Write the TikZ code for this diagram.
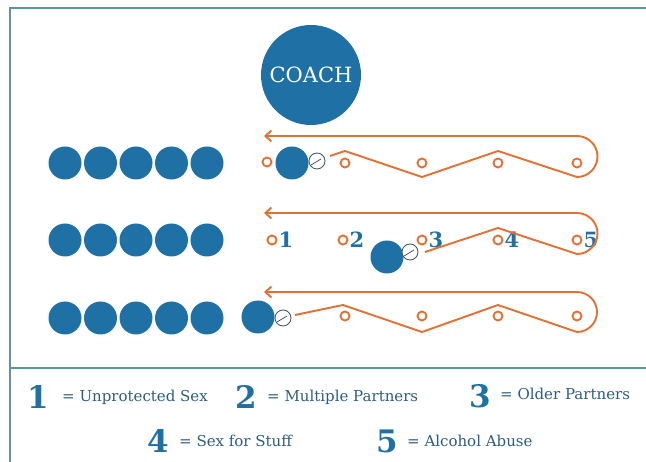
\documentclass[tikz,border=0pt]{standalone}
\usepackage{fontspec}
\setmainfont{DejaVu Serif}
\usetikzlibrary{arrows.meta,positioning}

\definecolor{teamblue}{RGB}{30,112,165}
\definecolor{keyblue}{RGB}{45,92,128}
\definecolor{runorange}{RGB}{226,112,52}
\definecolor{framegrey}{RGB}{95,150,158}
\definecolor{ballgrey}{RGB}{60,78,95}

\tikzset{
	player/.style={circle,fill=teamblue,minimum size=33pt,inner sep=0pt},
	cone/.style={circle,draw=runorange,line width=1.9pt,minimum size=9pt,inner sep=0pt},
	ball/.style={circle,draw=ballgrey,fill=white,line width=0.8pt,minimum size=16pt,inner sep=0pt},
	kick/.style={draw=ballgrey,line width=0.7pt},
	run/.style={draw=runorange,line width=1.9pt,line join=round,-{Straight Barb[length=6pt,width=11pt]}},
	conenum/.style={font=\bfseries\fontsize{21}{21}\selectfont,text=teamblue,inner sep=1pt},
	keynum/.style={font=\bfseries\fontsize{31}{31}\selectfont,text=teamblue,inner sep=0pt},
	keytext/.style={font=\fontsize{15}{15}\selectfont,text=keyblue,inner sep=0pt},
	frame/.style={draw=framegrey,line width=1.5pt}
}

\begin{document}
\begin{tikzpicture}[x=1pt,y=-1pt]
	\useasboundingbox (0,0) rectangle (646,462);
	\draw[frame] (646,8) -- (10,8) -- (10,462);
	\draw[frame] (10,368) -- (646,368);

	\node[player,minimum size=100pt,text=white,font=\fontsize{21}{21}\selectfont] (coach) at (311,75) {COACH};

	\foreach \y [count=\r] in {163,240,318}
		\foreach \x [count=\i] in {65,100.5,136,171.5,207}
			\node[player] (line\r\i) at (\x,\y) {};

	\node[cone] (cA0) at (267,162) {};
	\foreach \x [count=\i] in {345,422,498,577}
		\node[cone] (cA\i) at (\x,163) {};
	\node[player] (pA) at (292,163) {};
	\node[ball] (bA) at (317,161) {};
	\draw[kick] (bA.center) ++(-6,4) -- ++(10,-6);
	\path (bA) +(13,-5) coordinate (sA);
	\path (cA1) +(0,-12) coordinate (zA1);
	\path (cA2) +(0,14) coordinate (zA2);
	\path (cA3) +(0,-12) coordinate (zA3);
	\path (cA4) +(0,14) coordinate (zA4);
	\path (cA0) +(-3,-26) coordinate (eA);
	\draw[run] (sA) -- (zA1) -- (zA2) -- (zA3) -- (zA4) arc[start angle=90,end angle=-90,radius=20.5] -- (eA);

	\foreach \x [count=\i] in {272,343,422,498,577} {
		\node[cone] (cB\i) at (\x,240) {};
		\node[conenum,right=0pt of cB\i] (nB\i) {\i};
	}
	\node[player] (pB) at (387,257) {};
	\node[ball] (bB) at (410,252) {};
	\draw[kick] (bB.center) ++(-6,4) -- ++(10,-6);
	\path (bB) +(15,0) coordinate (sB);
	\path (cB4) +(0,-12) coordinate (zB4);
	\path (cB5) +(0,14) coordinate (zB5);
	\path (cB1) +(-8,-27) coordinate (eB);
	\draw[run] (sB) -- (zB4) -- (zB5) arc[start angle=90,end angle=-90,radius=20.5] -- (eB);

	\foreach \x [count=\i] in {345,422,498,577}
		\node[cone] (cC\i) at (\x,316) {};
	\node[player] (pC) at (258,317) {};
	\node[ball] (bC) at (283,318) {};
	\draw[kick] (bC.center) ++(-6,4) -- ++(10,-6);
	\path (bC) +(12,-3) coordinate (sC);
	\path (cC1) +(-2,-11) coordinate (zC1);
	\path (cC2) +(0,16) coordinate (zC2);
	\path (cC3) +(0,-11) coordinate (zC3);
	\path (cC4) +(0,16) coordinate (zC4);
	\path (pC) +(6,-25) coordinate (eC);
	\draw[run] (sC) -- (zC1) -- (zC2) -- (zC3) -- (zC4) arc[start angle=90,end angle=-90,radius=20] -- (eC);

	\node[keynum] (k1) at (38,397) {1};
	\node[keytext,right=13pt of k1] (t1) {= Unprotected Sex};
	\node[keynum] (k2) at (246,397) {2};
	\node[keytext,right=10pt of k2] (t2) {= Multiple Partners};
	\node[keynum] (k3) at (480,396) {3};
	\node[keytext,right=9pt of k3,yshift=2pt] (t3) {= Older Partners};
	\node[keynum] (k4) at (158,441) {4};
	\node[keytext,right=10pt of k4] (t4) {= Sex for Stuff};
	\node[keynum] (k5) at (387,441) {5};
	\node[keytext,right=9pt of k5] (t5) {= Alcohol Abuse};
\end{tikzpicture}
\end{document}
